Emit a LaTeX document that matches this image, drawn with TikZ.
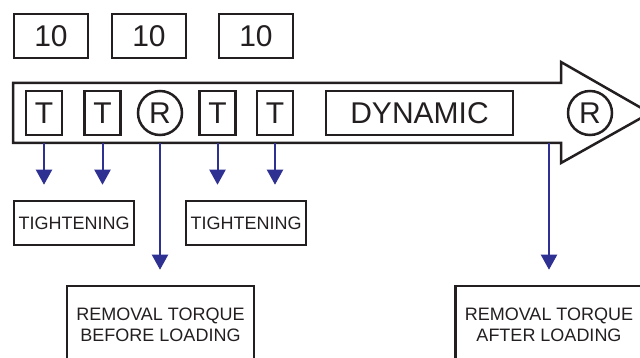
\documentclass[tikz,border=0pt]{standalone}
\usepackage{fontspec}
\setmainfont{Liberation Sans}
\usepackage{tikz}
\usetikzlibrary{arrows.meta, positioning, calc}
\definecolor{ink}{HTML}{231F20}
\definecolor{flowblue}{HTML}{2E3192}
\tikzset{
  countbox/.style={
    rectangle, minimum width=74pt, minimum height=44pt,
    inner sep=0pt, draw=ink, line width=2.5pt,
    text=ink, font=\fontsize{30}{32}\selectfont,
  },
  tbox/.style={
    rectangle, minimum width=36pt, minimum height=44pt,
    inner sep=0pt, draw=ink, line width=2.5pt,
    text=ink, font=\fontsize{30}{32}\selectfont,
  },
  rmark/.style={
    circle, minimum size=44pt, inner sep=0pt,
    draw=ink, line width=2.5pt,
    text=ink, font=\fontsize{30}{32}\selectfont,
  },
  phase/.style={
    rectangle, minimum width=187pt, minimum height=44pt,
    inner sep=0pt, draw=ink, line width=2.5pt,
    text=ink, font=\fontsize{30}{32}\selectfont,
  },
  stepnote/.style={
    rectangle, minimum width=120pt, minimum height=44pt,
    inner sep=0pt, draw=ink, line width=2.5pt,
    text=ink, font=\fontsize{18}{21}\selectfont,
  },
  torquenote/.style={
    rectangle, minimum width=187pt, minimum height=78pt,
    inner sep=0pt, draw=ink, line width=2.5pt, align=center,
    text=ink, font=\fontsize{18}{21}\selectfont,
  },
  shaft/.style={draw=ink, line width=2.5pt, line join=miter},
  flow/.style={-{Triangle[length=15pt,width=16pt]}, line width=2pt,
    color=flowblue, shorten >=15pt},
}

\begin{document}
\begin{tikzpicture}[x=1pt, y=-1pt]
  \useasboundingbox (0,0) rectangle (640,358);
  \clip (0,0) rectangle (640,358);

  % repetition counts
  \node[countbox] (n1) at (51,36) {10};
  \node[countbox] (n2) at (149,36) {10};
  \node[countbox] (n3) at (256,36) {10};

  % time axis
  \draw[shaft] (13,83) -- (561,83) -- (561,62) -- (650,113)
    -- (561,163) -- (561,143) -- (13,143) -- cycle;
  \coordinate (base) at (0,143);

  \node[tbox] (t1) at (44,113) {T};
  \node[tbox] (t2) at (102.5,113) {T};
  \node[rmark] (r1) at (160,113) {R};
  \node[tbox] (t3) at (217.5,113) {T};
  \node[tbox] (t4) at (275,113) {T};
  \node[phase] (dyn) at (419.5,113) {DYNAMIC};
  \node[rmark] (r2) at (590,113) {R};

  % outcomes
  \node[stepnote] (tight1) at (74,223) {TIGHTENING};
  \node[stepnote] (tight2) at (246,223) {TIGHTENING};
  \node[torquenote] (before) at (160.5,325) {REMOVAL TORQUE\\BEFORE LOADING};
  \node[torquenote] (after) at (549,325) {REMOVAL TORQUE\\AFTER LOADING};
  \coordinate (aftertop) at (549,143);

  \draw[flow] (t1 |- base) -- (t1 |- tight1.north);
  \draw[flow] (t2 |- base) -- (t2 |- tight1.north);
  \draw[flow] (t3 |- base) -- (t3 |- tight2.north);
  \draw[flow] (t4 |- base) -- (t4 |- tight2.north);
  \draw[flow] (r1 |- base) -- (r1 |- before.north);
  \draw[flow] (aftertop) -- (after.north);

\end{tikzpicture}
\end{document}
